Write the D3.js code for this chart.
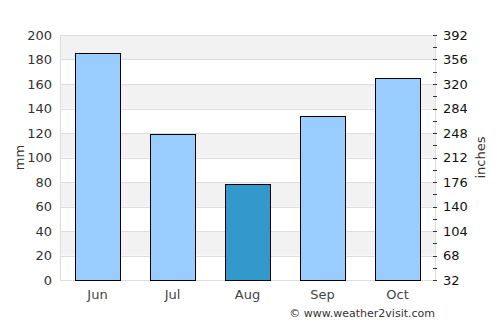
<!DOCTYPE html>
<html>
<head>
<meta charset="utf-8">
<script src="https://cdn.jsdelivr.net/npm/d3@7"></script>
<style>
  body { margin: 0; background: #fff; }
  text { font-family: "DejaVu Sans", sans-serif; }
</style>
</head>
<body>
<svg id="chart" width="500" height="325"></svg>
<script>
var months = ["Jun", "Jul", "Aug", "Sep", "Oct"];
var rainfall = [185, 119, 78, 134, 165];
var highlight = ["Aug"];
var leftTicks = [0, 20, 40, 60, 80, 100, 120, 140, 160, 180, 200];
var rightTicks = [32, 68, 104, 140, 176, 212, 248, 284, 320, 356, 392];

var svg = d3.select("#chart");
var plotL = 60, plotR = 435, plotT = 35, plotB = 280;

var x = d3.scaleBand().domain(months).range([plotL, plotR])
    .paddingInner(0.4).paddingOuter(0.2);
var y = d3.scaleLinear().domain([0, 200]).range([plotB, plotT]);
var y2 = d3.scaleLinear().domain([32, 392]).range([plotB, plotT]);

// alternating bands
var bands = d3.range(0, 200, 20);
svg.selectAll("rect.band")
    .data(bands)
  .enter().append("rect")
    .attr("class", "band")
    .attr("x", plotL)
    .attr("width", plotR - plotL)
    .attr("y", function(d) { return y(d + 20); })
    .attr("height", function(d) { return y(d) - y(d + 20); })
    .attr("fill", function(d) { return (d / 20) % 2 == 1 ? "#f2f2f2" : "#fff"; });

// grid lines
svg.selectAll("line.grid")
    .data(leftTicks)
  .enter().append("line")
    .attr("x1", plotL).attr("x2", plotR)
    .attr("y1", function(d) { return Math.round(y(d)) + 0.5; })
    .attr("y2", function(d) { return Math.round(y(d)) + 0.5; })
    .attr("stroke", "#ddd");

svg.append("line")
    .attr("x1", plotL + 0.5).attr("x2", plotL + 0.5)
    .attr("y1", plotT).attr("y2", plotB)
    .attr("stroke", "#ddd");
svg.append("line")
    .attr("x1", plotR + 0.5).attr("x2", plotR + 0.5)
    .attr("y1", plotT).attr("y2", plotB)
    .attr("stroke", "#ddd");

// bars
svg.selectAll("rect.bar")
    .data(rainfall)
  .enter().append("rect")
    .attr("class", "bar")
    .attr("x", function(d, i) { return Math.round(x(months[i])) + 0.5; })
    .attr("width", Math.round(x.bandwidth()))
    .attr("y", function(d) { return Math.round(y(d)) + 0.5; })
    .attr("height", function(d) { return Math.round(plotB - y(d)); })
    .attr("fill", function(d, i) { return highlight.indexOf(months[i]) >= 0 ? "#3399cc" : "#99ccff"; })
    .attr("stroke", "#000")
    .attr("stroke-width", 1);

// left axis labels
svg.selectAll("text.yl")
    .data(leftTicks)
  .enter().append("text")
    .attr("x", 52)
    .attr("y", function(d) { return y(d); })
    .attr("dy", "0.35em")
    .attr("text-anchor", "end")
    .attr("font-size", 13)
    .attr("fill", "#333")
    .text(function(d) { return d; });

// right axis labels and ticks
svg.selectAll("text.yr")
    .data(rightTicks)
  .enter().append("text")
    .attr("x", 443)
    .attr("y", function(d) { return y2(d); })
    .attr("dy", "0.35em")
    .attr("font-size", 13)
    .attr("fill", "#111")
    .text(function(d) { return d; });

var minor = d3.range(32, 393, 18);
svg.selectAll("line.rt")
    .data(minor)
  .enter().append("line")
    .attr("x1", 433).attr("x2", 437)
    .attr("y1", function(d) { return Math.round(y2(d)) + 0.5; })
    .attr("y2", function(d) { return Math.round(y2(d)) + 0.5; })
    .attr("stroke", "#333");

// month labels
svg.selectAll("text.xl")
    .data(months)
  .enter().append("text")
    .attr("x", function(d) { return x(d) + x.bandwidth() / 2; })
    .attr("y", 299)
    .attr("text-anchor", "middle")
    .attr("font-size", 13)
    .attr("fill", "#444")
    .text(function(d) { return d; });

// axis titles
svg.append("text")
    .attr("transform", "translate(24," + (plotT + plotB) / 2 + ") rotate(-90)")
    .attr("text-anchor", "middle")
    .attr("font-size", 13)
    .attr("fill", "#333")
    .text("mm");
svg.append("text")
    .attr("transform", "translate(485," + (plotT + plotB) / 2 + ") rotate(-90)")
    .attr("text-anchor", "middle")
    .attr("font-size", 13)
    .attr("fill", "#333")
    .text("inches");

svg.append("text")
    .attr("x", 435)
    .attr("y", 317)
    .attr("text-anchor", "end")
    .attr("font-size", 11)
    .attr("fill", "#333")
    .text("© www.weather2visit.com");
</script>
</body>
</html>
